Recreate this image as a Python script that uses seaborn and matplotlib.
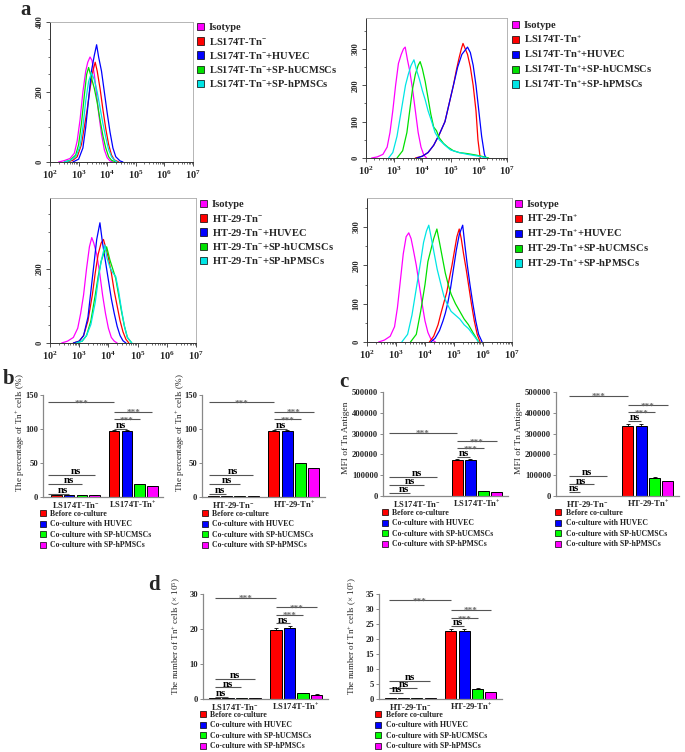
import numpy as np
import pandas as pd
import matplotlib
matplotlib.use("Agg")
import matplotlib.pyplot as plt
import seaborn as sns
from matplotlib.patches import Patch
from matplotlib.ticker import MultipleLocator, LogLocator, NullFormatter

sns.set_style("ticks")
plt.rcParams["font.family"] = ["Liberation Serif", "DejaVu Serif"]
plt.rcParams["font.weight"] = "bold"
plt.rcParams["mathtext.fontset"] = "custom"
plt.rcParams["mathtext.rm"] = "Liberation Serif:bold"
plt.rcParams["mathtext.bf"] = "Liberation Serif:bold"
plt.rcParams["mathtext.it"] = "Liberation Serif:bold:italic"

# ---------------- data: flow cytometry histograms (log10 intensity, count) ----------------
HIST_COLORS = ["#FF00FF", "#FF0000", "#0000FF", "#00E000", "#00E5E5"]

a1_iso_x = [2.3, 2.5, 2.7, 2.85, 2.95, 3.05, 3.15, 3.25, 3.32, 3.4, 3.47, 3.55, 3.62, 3.7, 3.8, 3.9, 4.0, 4.1, 4.2]
a1_iso_y = [0, 4, 10, 25, 60, 120, 200, 260, 285, 300, 290, 250, 200, 140, 80, 35, 12, 3, 0]
a1_red_x = [2.6, 2.8, 2.95, 3.1, 3.2, 3.3, 3.4, 3.5, 3.58, 3.65, 3.75, 3.85, 3.95, 4.05, 4.15, 4.25, 4.4]
a1_red_y = [0, 5, 15, 50, 100, 150, 210, 260, 285, 260, 210, 150, 95, 50, 20, 6, 0]
a1_blue_x = [2.8, 3.0, 3.15, 3.25, 3.35, 3.45, 3.55, 3.63, 3.7, 3.8, 3.9, 4.0, 4.1, 4.2, 4.3, 4.45, 4.55]
a1_blue_y = [0, 8, 40, 100, 180, 260, 305, 335, 300, 260, 200, 140, 85, 40, 15, 3, 0]
a1_green_x = [2.5, 2.7, 2.9, 3.0, 3.1, 3.2, 3.28, 3.35, 3.45, 3.55, 3.65, 3.75, 3.85, 3.95, 4.05, 4.15, 4.3]
a1_green_y = [0, 5, 20, 50, 110, 190, 250, 270, 240, 210, 170, 120, 75, 40, 15, 5, 0]
a1_cyan_x = [2.5, 2.7, 2.9, 3.05, 3.15, 3.25, 3.35, 3.45, 3.55, 3.65, 3.75, 3.85, 3.95, 4.05, 4.15, 4.25, 4.35]
a1_cyan_y = [0, 4, 15, 45, 100, 175, 230, 255, 235, 200, 155, 110, 70, 35, 15, 5, 0]

a2_iso_x = [2.2, 2.4, 2.6, 2.75, 2.85, 2.95, 3.05, 3.15, 3.25, 3.33, 3.39, 3.47, 3.55, 3.65, 3.75, 3.85, 3.95, 4.05, 4.15]
a2_iso_y = [0, 3, 10, 30, 70, 130, 200, 260, 285, 300, 305, 270, 240, 190, 130, 70, 30, 8, 0]
a2_red_x = [3.75, 4.0, 4.2, 4.4, 4.6, 4.8, 4.95, 5.1, 5.2, 5.3, 5.38, 5.44, 5.52, 5.6, 5.7, 5.8, 5.9, 5.97, 6.05]
a2_red_y = [0, 5, 15, 35, 65, 100, 150, 200, 240, 275, 300, 315, 300, 285, 250, 200, 130, 50, 0]
a2_blue_x = [3.8, 4.0, 4.2, 4.4, 4.6, 4.8, 4.95, 5.1, 5.25, 5.4, 5.5, 5.6, 5.7, 5.8, 5.9, 6.0, 6.1, 6.2, 6.25]
a2_blue_y = [0, 5, 15, 35, 65, 100, 150, 200, 250, 285, 295, 305, 290, 255, 200, 130, 60, 10, 0]
a2_green_x = [3.1, 3.3, 3.45, 3.55, 3.65, 3.75, 3.85, 3.92, 4.0, 4.1, 4.2, 4.3, 4.4, 4.5, 4.6, 4.75, 4.9, 5.1, 5.3, 5.6, 5.9, 6.2, 6.35]
a2_green_y = [0, 20, 70, 130, 190, 230, 255, 265, 245, 210, 165, 120, 85, 75, 55, 40, 30, 20, 15, 12, 8, 3, 0]
a2_cyan_x = [2.8, 2.95, 3.1, 3.25, 3.4, 3.5, 3.6, 3.7, 3.8, 3.9, 4.0, 4.1, 4.2, 4.33, 4.45, 4.6, 4.8, 5.0, 5.3, 5.6, 6.0, 6.3]
a2_cyan_y = [0, 15, 60, 130, 200, 230, 255, 270, 240, 215, 185, 160, 130, 100, 70, 50, 35, 22, 15, 10, 5, 0]

a3_iso_x = [2.4, 2.6, 2.8, 2.95, 3.05, 3.15, 3.25, 3.35, 3.43, 3.5, 3.6, 3.7, 3.8, 3.9, 4.0, 4.1, 4.2, 4.3]
a3_iso_y = [0, 5, 15, 40, 80, 130, 200, 260, 285, 270, 240, 190, 130, 80, 40, 15, 5, 0]
a3_red_x = [2.8, 3.0, 3.15, 3.3, 3.45, 3.55, 3.65, 3.75, 3.83, 3.9, 4.0, 4.1, 4.2, 4.3, 4.4, 4.5, 4.6, 4.7]
a3_red_y = [0, 5, 20, 60, 130, 190, 240, 270, 280, 260, 230, 190, 140, 100, 60, 30, 10, 0]
a3_blue_x = [2.8, 3.0, 3.15, 3.3, 3.4, 3.5, 3.6, 3.71, 3.8, 3.9, 4.0, 4.1, 4.2, 4.3, 4.4, 4.5, 4.6]
a3_blue_y = [0, 5, 20, 70, 140, 210, 280, 325, 270, 220, 170, 120, 80, 45, 20, 6, 0]
a3_green_x = [2.9, 3.1, 3.25, 3.4, 3.55, 3.65, 3.75, 3.85, 3.94, 4.05, 4.15, 4.25, 4.35, 4.45, 4.55, 4.65, 4.8]
a3_green_y = [0, 5, 20, 60, 130, 180, 220, 245, 260, 225, 200, 175, 130, 85, 45, 15, 0]
a3_cyan_x = [2.9, 3.1, 3.25, 3.4, 3.55, 3.65, 3.75, 3.88, 3.95, 4.05, 4.15, 4.25, 4.35, 4.45, 4.55, 4.65, 4.8]
a3_cyan_y = [0, 5, 20, 50, 110, 170, 220, 265, 230, 205, 190, 180, 140, 90, 45, 15, 0]

a4_iso_x = [2.4, 2.6, 2.8, 2.95, 3.05, 3.15, 3.25, 3.35, 3.44, 3.52, 3.6, 3.7, 3.8, 3.9, 4.0, 4.1, 4.2, 4.36]
a4_iso_y = [0, 5, 15, 40, 90, 160, 230, 275, 285, 270, 240, 200, 150, 100, 55, 25, 8, 0]
a4_red_x = [4.15, 4.3, 4.45, 4.55, 4.64, 4.75, 4.85, 4.93, 5.02, 5.1, 5.18, 5.25, 5.33, 5.42, 5.5, 5.6, 5.7, 5.8, 5.9]
a4_red_y = [0, 15, 45, 75, 100, 130, 170, 200, 240, 275, 295, 270, 230, 190, 150, 100, 55, 20, 0]
a4_blue_x = [4.2, 4.35, 4.5, 4.62, 4.7, 4.78, 4.88, 4.98, 5.08, 5.18, 5.25, 5.3, 5.38, 5.46, 5.55, 5.65, 5.75, 5.85, 5.97]
a4_blue_y = [0, 10, 30, 55, 75, 100, 140, 190, 240, 280, 295, 305, 250, 200, 150, 100, 55, 20, 0]
a4_green_x = [3.5, 3.7, 3.85, 4.0, 4.1, 4.2, 4.3, 4.41, 4.5, 4.6, 4.7, 4.8, 4.9, 5.05, 5.2, 5.35, 5.5, 5.65, 5.85]
a4_green_y = [0, 20, 80, 150, 210, 240, 270, 295, 260, 220, 180, 150, 125, 100, 80, 60, 45, 25, 0]
a4_cyan_x = [3.2, 3.4, 3.55, 3.7, 3.85, 3.95, 4.05, 4.13, 4.22, 4.32, 4.42, 4.55, 4.65, 4.76, 4.9, 5.05, 5.2, 5.35, 5.5, 5.65, 5.85]
a4_cyan_y = [0, 20, 70, 140, 210, 260, 290, 305, 270, 230, 190, 150, 120, 100, 80, 70, 60, 45, 35, 20, 0]

a1_labels = ["Isotype", r"LS174T-Tn$\mathregular{^{-}}$", r"LS174T-Tn$\mathregular{^{-}}$+HUVEC",
             r"LS174T-Tn$\mathregular{^{-}}$+SP-hUCMSCs", r"LS174T-Tn$\mathregular{^{-}}$+SP-hPMSCs"]
a2_labels = ["Isotype", r"LS174T-Tn$\mathregular{^{+}}$", r"LS174T-Tn$\mathregular{^{+}}$+HUVEC",
             r"LS174T-Tn$\mathregular{^{+}}$+SP-hUCMSCs", r"LS174T-Tn$\mathregular{^{+}}$+SP-hPMSCs"]
a3_labels = ["Isotype", r"HT-29-Tn$\mathregular{^{-}}$", r"HT-29-Tn$\mathregular{^{-}}$+HUVEC",
             r"HT-29-Tn$\mathregular{^{-}}$+SP-hUCMSCs", r"HT-29-Tn$\mathregular{^{-}}$+SP-hPMSCs"]
a4_labels = ["Isotype", r"HT-29-Tn$\mathregular{^{+}}$", r"HT-29-Tn$\mathregular{^{+}}$+HUVEC",
             r"HT-29-Tn$\mathregular{^{+}}$+SP-hUCMSCs", r"HT-29-Tn$\mathregular{^{+}}$+SP-hPMSCs"]

# ---------------- data: bar charts ----------------
CONDS = ["Before co-culture", "Co-culture with HUVEC", "Co-culture with SP-hUCMSCs", "Co-culture with SP-hPMSCs"]
BAR_COLORS = ["#FF0000", "#0000FF", "#00FF00", "#FF00FF"]
LS_groups = [r"LS174T-Tn$\mathregular{^{-}}$", r"LS174T-Tn$\mathregular{^{+}}$"]
HT_groups = [r"HT-29-Tn$\mathregular{^{-}}$", r"HT-29-Tn$\mathregular{^{+}}$"]

b1_neg = [2.6, 2.6, 2.4, 2.4]; b1_pos = [97.5, 97.5, 18.7, 16.2]
b1_neg_err = [0.3, 0.3, 0.2, 0.2]; b1_pos_err = [0.8, 0.8, 0.6, 0.5]
b2_neg = [1.6, 1.6, 1.3, 1.3]; b2_pos = [97.5, 97.5, 50.0, 42.2]
b2_neg_err = [0.2, 0.2, 0.2, 0.2]; b2_pos_err = [0.8, 0.8, 0.7, 0.6]
c1_neg = [1500, 1500, 1200, 1200]; c1_pos = [175000, 175000, 24000, 17000]
c1_neg_err = [200, 200, 200, 200]; c1_pos_err = [3000, 3000, 1500, 1000]
c2_neg = [1500, 1500, 1200, 1200]; c2_pos = [336000, 336000, 88000, 72000]
c2_neg_err = [200, 200, 200, 200]; c2_pos_err = [12000, 12000, 2500, 2000]
d1_neg = [0.3, 0.3, 0.2, 0.2]; d1_pos = [19.7, 20.3, 1.6, 1.2]
d1_neg_err = [0.05, 0.05, 0.05, 0.05]; d1_pos_err = [0.5, 0.6, 0.1, 0.1]
d2_neg = [0.3, 0.3, 0.3, 0.2]; d2_pos = [22.7, 22.6, 3.5, 2.4]
d2_neg_err = [0.05, 0.05, 0.05, 0.05]; d2_pos_err = [0.8, 0.8, 0.2, 0.1]

# significance bracket heights: top (Tn- vs Tn+), Tn+ group [ns, ***, ***], Tn- group [ns, ns, ns]
b1_sig_top = 139; b1_sig_pos = [100, 114.7, 125.5]; b1_sig_neg = [4.4, 19, 32]
b2_sig_top = 139; b2_sig_pos = [100, 114.7, 125.5]; b2_sig_neg = [4.4, 19, 32]
c1_sig_top = 305000; c1_sig_pos = [187000, 230000, 264000]; c1_sig_neg = [14000, 53000, 91000]
c2_sig_top = 482000; c2_sig_pos = [362000, 404000, 436000]; c2_sig_neg = [18000, 56000, 96000]
d1_sig_top = 28.9; d1_sig_pos = [21.6, 24.1, 26.2]; d1_sig_neg = [0.6, 3.3, 5.7]
d2_sig_top = 33.0; d2_sig_pos = [24.3, 27.0, 29.7]; d2_sig_neg = [1.9, 3.8, 6.1]

b_ylabel = r"The percentage of Tn$\mathregular{^{+}}$ cells (%)"
c_ylabel = "MFI of Tn Antigen"
d_ylabel = r"The number of Tn$\mathregular{^{+}}$ cells (× 10$\mathregular{^{5}}$)"

# ---------------- figure ----------------
W, H = 685, 752
fig = plt.figure(figsize=(W / 100, H / 100), dpi=100)


def ax_px(l, t, r, b):
    return fig.add_axes([l / W, 1 - b / H, (r - l) / W, (b - t) / H])


def legend_px(handles, labels, x, y, fs, spacing, hl, pad):
    fig.legend(handles, labels, loc="upper left", bbox_to_anchor=(x / W, 1 - y / H),
               frameon=False, fontsize=fs, handlelength=hl, handleheight=hl,
               handletextpad=pad, labelspacing=spacing, borderpad=0, borderaxespad=0)


def hist_panel(box, curves, ymax, yticks, labels, leg_xy):
    ax = ax_px(*box)
    for (xs, ys), col in zip(curves, HIST_COLORS):
        sns.lineplot(x=10 ** np.asarray(xs, dtype=float), y=ys, ax=ax, color=col,
                     lw=0.9, estimator=None, sort=False)
    ax.set_xscale("log")
    ax.set_xlim(1e2, 1e7)
    ax.set_ylim(0, ymax)
    ax.set_xticks([10 ** k for k in range(2, 8)])
    ax.set_xticklabels([r"$\mathregular{10^{%d}}$" % k for k in range(2, 8)], fontsize=7.5)
    ax.xaxis.set_minor_locator(LogLocator(base=10, subs=np.arange(2, 10), numticks=30))
    ax.xaxis.set_minor_formatter(NullFormatter())
    ax.set_yticks(yticks)
    ax.set_yticklabels([str(t) for t in yticks], rotation=90, va="center", fontsize=6)
    ax.yaxis.set_minor_locator(MultipleLocator(50))
    ax.tick_params(which="major", length=3, width=0.6, pad=1.5, color="#333333")
    ax.tick_params(which="minor", length=1.6, width=0.5, color="#333333")
    for s in ["left", "bottom"]:
        ax.spines[s].set_color("#333333"); ax.spines[s].set_linewidth(0.7)
    for s in ["top", "right"]:
        ax.spines[s].set_color("#aaaaaa"); ax.spines[s].set_linewidth(0.6)
    ax.set_xlabel(""); ax.set_ylabel("")
    handles = [Patch(facecolor=c, edgecolor="black", lw=0.5) for c in HIST_COLORS]
    legend_px(handles, labels, leg_xy[0], leg_xy[1], 7.6, 0.3, 0.7, 0.4)
    return ax


def bracket(ax, x0, x1, y, text, xm):
    ax.plot([x0, x1], [y, y], color="#555555", lw=0.8, solid_capstyle="butt")
    if text == "ns":
        ax.annotate(text, (xm, y), xytext=(0, 0.6), textcoords="offset points",
                    ha="center", va="baseline", fontsize=7.8, color="black", fontweight="bold")
    else:
        ax.annotate(text, (xm, y), xytext=(0, -2.4), textcoords="offset points",
                    ha="center", va="baseline", fontsize=6.6, color="#666666", fontweight="bold")


def bar_panel(box, groups, neg, pos, neg_err, pos_err, ymax, yticks, ylabel,
              sig_top, sig_pos, sig_neg, x_start, ylab_px, leg_xy):
    ax = ax_px(*box)
    df = pd.DataFrame({"group": np.repeat(groups, 4), "cond": CONDS * 2,
                       "value": list(neg) + list(pos)})
    sns.barplot(data=df, x="group", y="value", hue="cond", hue_order=CONDS,
                palette=BAR_COLORS, width=0.88, gap=0.17, edgecolor="black",
                linewidth=0.7, errorbar=None, legend=False, ax=ax, saturation=1)
    errs = [list(neg_err), list(pos_err)]
    bar_conts = list(ax.containers)
    centers = []
    for i, cont in enumerate(bar_conts):
        patches = [p for p in cont.patches]
        xs = [p.get_x() + p.get_width() / 2 for p in patches]
        hs = [p.get_height() for p in patches]
        es = [errs[g][i] for g in range(2)]
        ax.errorbar(xs, hs, yerr=[np.zeros(2), es], fmt="none", ecolor="black",
                    elinewidth=0.6, capsize=1.6, capthick=0.6, zorder=1)
        centers.append(xs)
    c = np.array(centers)  # c[cond, group]
    ax.set_ylim(0, ymax)
    ax.set_yticks(yticks)
    ax.set_yticklabels([str(t) for t in yticks], fontsize=6.2)
    ax.tick_params(axis="y", length=2.5, width=0.6, pad=1.0, color="#777777")
    ax.tick_params(axis="x", length=0, pad=2, labelsize=6.2)
    sns.despine(ax=ax)
    for s in ["left", "bottom"]:
        ax.spines[s].set_color("#888888"); ax.spines[s].set_linewidth(0.9)
    ax.set_xlabel("")
    ax.set_ylabel(ylabel, fontsize=ylab_px[2])
    l, t, r, b = box
    ax.yaxis.set_label_coords(ylab_px[0] / (r - l), ylab_px[1])
    # brackets
    bracket(ax, x_start, c[0, 1], sig_top, "***", (x_start + c[0, 1]) / 2)
    labs = ["ns", "***", "***"]
    for k in range(3):
        bracket(ax, c[0, 1], c[k + 1, 1], sig_pos[k], labs[k], (c[0, 1] + c[k + 1, 1]) / 2)
        bracket(ax, x_start, c[k + 1, 0], sig_neg[k], "ns", (c[0, 0] + c[k + 1, 0]) / 2)
    handles = [Patch(facecolor=col, edgecolor="black", lw=0.5) for col in BAR_COLORS]
    legend_px(handles, CONDS, leg_xy[0], leg_xy[1], 5.6, 0.32, 0.75, 0.6)
    return ax


hist_panel((50, 22, 193, 162),
           [(a1_iso_x, a1_iso_y), (a1_red_x, a1_red_y), (a1_blue_x, a1_blue_y),
            (a1_green_x, a1_green_y), (a1_cyan_x, a1_cyan_y)],
           400, [0, 200, 400], a1_labels, (197, 23))
hist_panel((366, 18, 507, 158),
           [(a2_iso_x, a2_iso_y), (a2_red_x, a2_red_y), (a2_blue_x, a2_blue_y),
            (a2_green_x, a2_green_y), (a2_cyan_x, a2_cyan_y)],
           385, [0, 100, 200, 300], a2_labels, (512, 21))
hist_panel((50, 198, 196, 343),
           [(a3_iso_x, a3_iso_y), (a3_red_x, a3_red_y), (a3_blue_x, a3_blue_y),
            (a3_green_x, a3_green_y), (a3_cyan_x, a3_cyan_y)],
           392, [0, 200], a3_labels, (200, 200))
hist_panel((367, 198, 512, 342),
           [(a4_iso_x, a4_iso_y), (a4_red_x, a4_red_y), (a4_blue_x, a4_blue_y),
            (a4_green_x, a4_green_y), (a4_cyan_x, a4_cyan_y)],
           376, [0, 100, 200, 300], a4_labels, (515, 200))

bar_panel((43, 395, 163, 497), LS_groups, b1_neg, b1_pos, b1_neg_err, b1_pos_err,
          150, [0, 50, 100, 150], b_ylabel, b1_sig_top, b1_sig_pos, b1_sig_neg,
          -0.47, (-16, 0.63, 6.6), (40, 510))
bar_panel((202, 395, 325, 497), HT_groups, b2_neg, b2_pos, b2_neg_err, b2_pos_err,
          150, [0, 50, 100, 150], b_ylabel, b2_sig_top, b2_sig_pos, b2_sig_neg,
          -0.4, (-15, 0.63, 6.6), (202, 510))
bar_panel((383, 392, 508, 496), LS_groups, c1_neg, c1_pos, c1_neg_err, c1_pos_err,
          500000, [0, 100000, 200000, 300000, 400000, 500000], c_ylabel,
          c1_sig_top, c1_sig_pos, c1_sig_neg, -0.47, (-33, 0.56, 6.8), (382, 509))
bar_panel((556, 392, 679, 496), HT_groups, c2_neg, c2_pos, c2_neg_err, c2_pos_err,
          500000, [0, 100000, 200000, 300000, 400000, 500000], c_ylabel,
          c2_sig_top, c2_sig_pos, c2_sig_neg, -0.3, (-33, 0.56, 6.8), (555, 509))
bar_panel((203, 594, 328, 699), LS_groups, d1_neg, d1_pos, d1_neg_err, d1_pos_err,
          30, [0, 10, 20, 30], d_ylabel, d1_sig_top, d1_sig_pos, d1_sig_neg,
          -0.32, (-20, 0.6, 6.5), (200, 711))
bar_panel((379, 594, 502, 699), HT_groups, d2_neg, d2_pos, d2_neg_err, d2_pos_err,
          35, [0, 5, 10, 15, 20, 25, 30, 35], d_ylabel, d2_sig_top, d2_sig_pos, d2_sig_neg,
          -0.35, (-20, 0.6, 6.5), (375, 711))

for lab, x, y in [("a", 20, 15), ("b", 3, 384), ("c", 339, 387), ("d", 148, 590)]:
    fig.text(x / W, 1 - y / H, lab, fontsize=15, fontweight="bold", ha="left", va="baseline")

fig.savefig("out.png", dpi=100)
